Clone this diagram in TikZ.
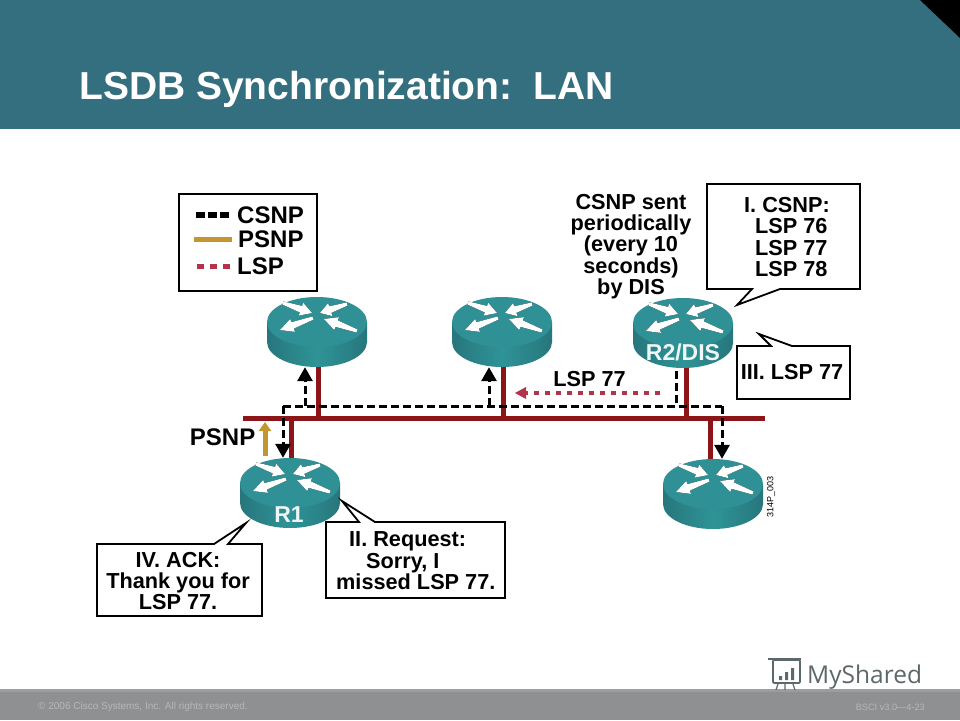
\documentclass[tikz,border=0pt]{standalone}
\usepackage{fontspec}
\setmainfont{Liberation Sans}
\newfontfamily\logofont{Open Sans}
\usepackage{xcolor}
\usetikzlibrary{arrows.meta, positioning, calc}

\definecolor{headerteal}{HTML}{336F7E}
\definecolor{footgray}{HTML}{8F9092}
\definecolor{routertop}{HTML}{2F9195}
\definecolor{routeredge}{HTML}{27767C}
\definecolor{routermid}{HTML}{2E9497}
\definecolor{linkred}{HTML}{8C1518}
\definecolor{lspred}{HTML}{B2334A}
\definecolor{psnpgold}{HTML}{C2982E}
\definecolor{logogray}{HTML}{5C686A}

\tikzset{
  router/.pic={
    \shade[left color=routeredge, right color=routeredge, middle color=routermid] (-50,0) rectangle (50,20);
    \shade[left color=routeredge, right color=routeredge, middle color=routermid] (0,20) ellipse (50pt and 25pt);
    \fill[routertop] (0,0) ellipse (50pt and 25pt);
    \foreach \tx/\ty/\hx/\hy in {-34/-19/-5/-9, 30/-18/3/-9, -4/-4/-37/8, 40/9/7/-3} {
      \coordinate (t) at (\tx,\ty);
      \coordinate (h) at (\hx,\hy);
      \coordinate (n) at ($(t)!0.62!(h)$);
      \foreach \col/\up in {black/1.3pt, white/0pt} {
        \fill[\col, yshift=\up] ($(t)!1.6pt!90:(h)$) -- ($(n)!3.4pt!90:(h)$) -- ($(n)!6.8pt!90:(h)$) -- (h)
          -- ($(n)!6.8pt!-90:(h)$) -- ($(n)!3.4pt!-90:(h)$) -- ($(t)!1.6pt!-90:(h)$) -- cycle;
      }
    }
    \node[minimum width=100pt, minimum height=70pt, inner sep=0pt] (-body) at (0,10) {};
  },
}

\begin{document}
\begin{tikzpicture}[
  x=1pt, y=-1pt,
  lab/.style={font=\fontsize{21.7}{21.4}\selectfont\bfseries, inner sep=0pt, align=center},
  keylab/.style={font=\fontsize{24}{24}\selectfont\bfseries, inner sep=0pt, anchor=west},
  routerlab/.style={font=\fontsize{23}{23}\selectfont\bfseries, text=white!92!routertop, inner sep=0pt},
  callout/.style={draw=black, fill=white, line width=1.8pt, line join=miter},
  footlab/.style={text=black!28, inner sep=0pt},
  busbar/.style={fill=linkred, inner sep=0pt, minimum width=522pt, minimum height=5pt},
  link/.style={draw=linkred, line width=5pt},
  csnp/.style={draw=black, line width=3pt, dash pattern=on 8pt off 4pt},
  csnptip/.style={csnp, -{Triangle[length=14pt, width=15pt]}},
  psnp/.style={draw=psnpgold, line width=5pt},
  lsp/.style={draw=lspred, line width=4.5pt, dash pattern=on 5.5pt off 5.5pt},
]
\useasboundingbox (0,0) rectangle (960,720);
\fill[white] (0,0) rectangle (960,720);

\fill[headerteal] (0,0) rectangle (960,129);
\fill[black] (920,0) -- (960,0) -- (960,38) -- cycle;
\node[font=\fontsize{39}{39}\selectfont\bfseries, text=white, inner sep=0pt, anchor=base west] (title) at (79,99) {LSDB Synchronization:\, LAN};

\fill[footgray] (0,689) rectangle (960,720);
\fill[footgray!88!white] (0,689) rectangle (960,692);
\node[footlab, font=\fontsize{10}{10}\selectfont, anchor=west] (copyright) at (38,707) {© 2006 Cisco Systems, Inc. All rights reserved.};
\node[footlab, font=\fontsize{9.2}{9.2}\selectfont, anchor=east] (course) at (925,707) {BSCI v3.0—4-23};

% legend
\node[draw=black, line width=1.4pt, minimum width=138pt, minimum height=97pt, inner sep=0pt] (legend) at (248,242.5) {};
\node[keylab] (keycsnp) at (237,215) {CSNP};
\node[keylab] (keypsnp) at (238,239.5) {PSNP};
\node[keylab] (keylsp) at (237,266.5) {LSP};
\draw[draw=black, line width=6.5pt, dash pattern=on 9pt off 3pt] ([xshift=-41pt]keycsnp.west) -- ([xshift=-7pt]keycsnp.west);
\draw[psnp] ([xshift=-44pt]keypsnp.west) -- ([xshift=-6pt]keypsnp.west);
\draw[draw=lspred, line width=5pt, dash pattern=on 7pt off 6pt] ([xshift=-40pt]keylsp.west) -- ([xshift=-7pt]keylsp.west);

% shared segment and the four routers
\node[busbar] (bus) at (504,418) {};
\draw[link] (318,367) -- (318,418);
\draw[link] (503,367) -- (503,418);
\draw[link] (686,367) -- (686,418);
\draw[link] (291,418) -- (291,460);
\draw[link] (710,418) -- (710,462);

\pic (rone) at (317,322) {router};
\pic (rtwo) at (502,322) {router};
\pic (rdis) at (683,323) {router};
\pic (rlow) at (290,483) {router};
\pic (rend) at (713,484) {router};

\node[routerlab] (rdislab) at (683,352) {R2/DIS};
\node[routerlab] (rlowlab) at (289,515) {R1};
\node[font=\fontsize{9}{9}\selectfont, inner sep=0pt, rotate=90] (figid) at (771,497) {314P\_003};

% CSNP flooding
\coordinate (csnpl) at (283,406);
\coordinate (csnpr) at (722,406);
\coordinate (csnpdis) at (676,406);
\coordinate (csnpa) at (305,406);
\coordinate (csnpb) at (489,406);
\draw[csnp] ([yshift=-3pt]rdis-body.south -| csnpdis) -- (csnpdis);
\draw[csnptip] (csnpl) -- (rlow-body.north -| csnpl);
\draw[csnptip] (csnpr) -- (rend-body.north -| csnpr);
\draw[csnp] (csnpl) -- (csnpr);
\draw[csnptip] (csnpa) -- (rone-body.south -| csnpa);
\draw[csnptip] (csnpb) -- (rtwo-body.south -| csnpb);

% LSP retransmission and PSNP
\coordinate (lspfrom) at (660,393);
\coordinate (lspto) at (515,393);
\draw[lsp] (lspfrom) -- ([xshift=11pt]lspto);
\fill[lspred] (lspto) -- ++(11,-6) -- ++(0,12) -- cycle;
\node[lab] (lsplab) at (589.5,379) {LSP 77};

\coordinate (psnpfrom) at (265,456);
\coordinate (psnpto) at (265,422);
\draw[psnp, -{Triangle[length=9pt, width=12pt]}] (psnpfrom) -- (psnpto);
\node[keylab, anchor=east] (psnplab) at (255.5,437) {PSNP};

\node[lab] (periodic) at (631,246.5) {CSNP sent\\periodically\\(every 10\\seconds)\\by DIS};

% callouts
\draw[callout] (707,184) -- (860,184) -- (860,289) -- (780,289) -- (737,305) -- (752,289) -- (707,289) -- cycle;
\node[lab, align=left, anchor=north west] (calloutone) at (744,197) {I. CSNP:\\\hspace*{11pt}LSP 76\\\hspace*{11pt}LSP 77\\\hspace*{11pt}LSP 78};

\draw[callout] (737,346) -- (771,346) -- (759,334) -- (792,346) -- (850,346) -- (850,399) -- (737,399) -- cycle;
\node[lab] (calloutthree) at (792,372) {III. LSP 77};

\draw[callout] (326,522) -- (359,522) -- (342,501) -- (375,522) -- (505,522) -- (505,598) -- (326,598) -- cycle;
\node[lab, align=left, anchor=north west] (callouttwo) at (336,531.5) {\hspace*{13pt}II. Request:\\\hspace*{30pt}Sorry, I\\missed LSP 77.};

\draw[callout] (97,544) -- (214,544) -- (246,523) -- (228,544) -- (262,544) -- (262,616) -- (97,616) -- cycle;
\node[lab] (calloutfour) at (178,581) {IV. ACK:\\Thank you for\\LSP 77.};

% watermark
\node[font=\fontsize{24.5}{24.5}\selectfont\logofont, text=logogray, inner sep=0pt, anchor=base west] (logo) at (807,683) {MyShared};
\draw[draw=logogray, line width=1.6pt, rounded corners=1pt] (773,660) rectangle (800,683);
\draw[draw=logogray, line width=1.6pt] (768,659) -- (801,659);
\fill[logogray] (779,676) rectangle (782,680) (785,672) rectangle (788,680) (791,668) rectangle (794,680);
\draw[draw=logogray, line width=1.2pt] (778,684) -- (776,690) (785,684) -- (785,690) (793,684) -- (795,690);
\end{tikzpicture}
\end{document}
